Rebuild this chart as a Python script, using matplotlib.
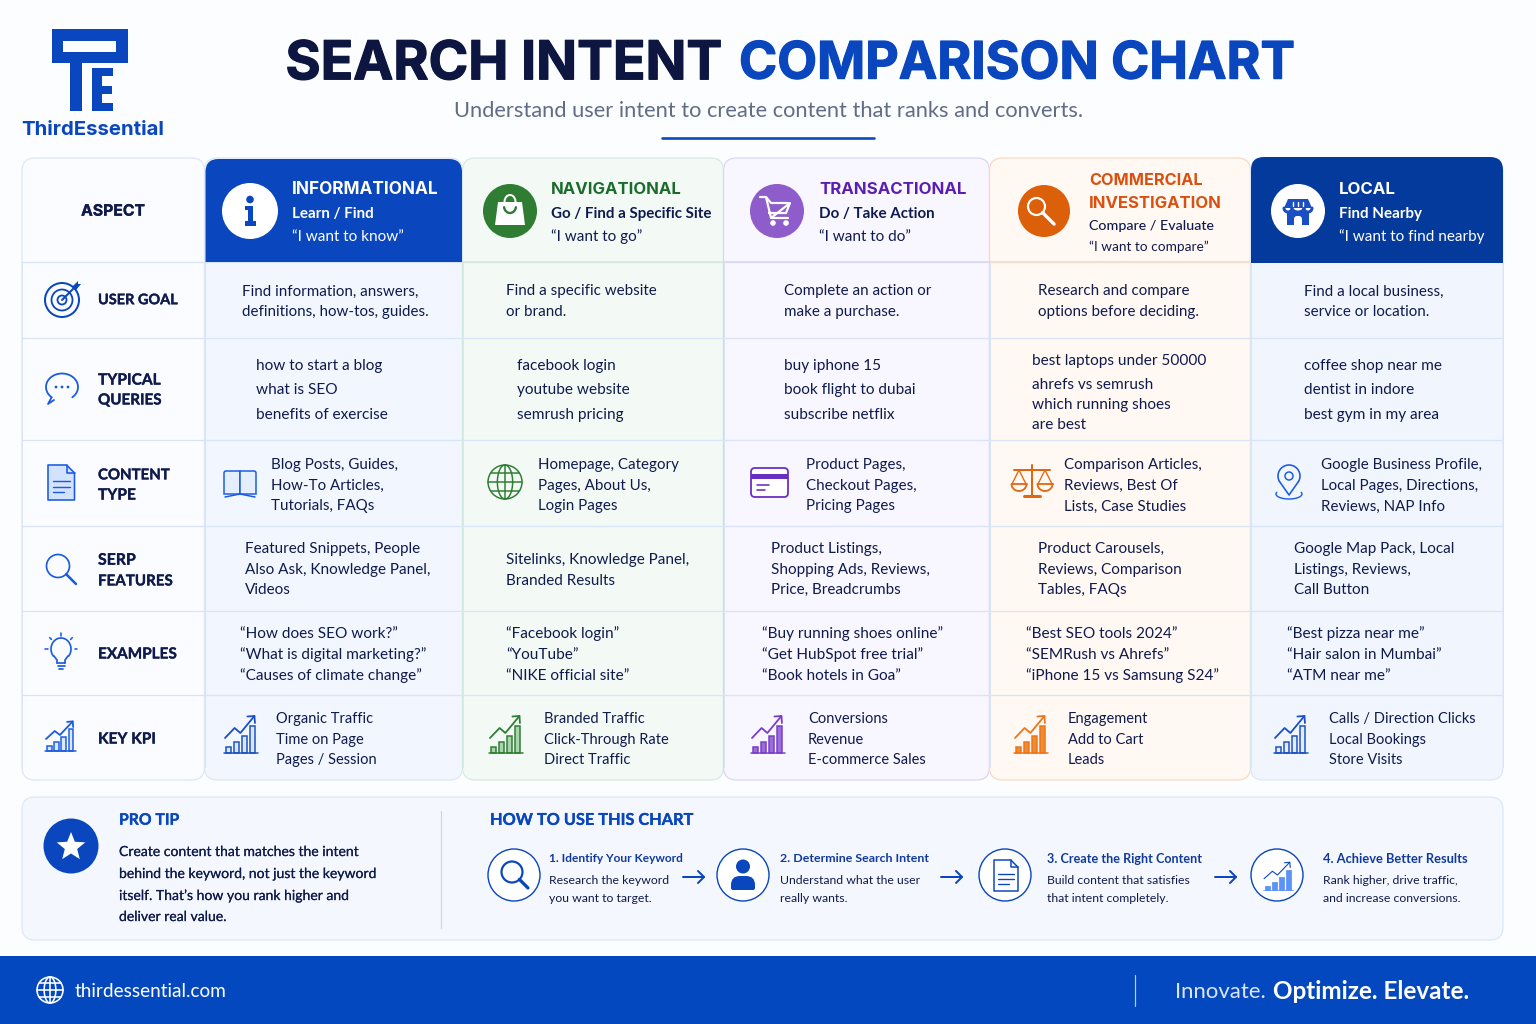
"""Search intent comparison chart, drawn on a pixel-sized canvas."""

import matplotlib
matplotlib.use("Agg")
import matplotlib.patheffects as pe
import matplotlib.pyplot as plt
import numpy as np
from matplotlib.patches import Circle, PathPatch, Polygon, Rectangle
from matplotlib.path import Path

BODY = "Lato"
HEAD = "Inter"
PX = 0.72  # one pixel in points at dpi 100

NAVY = "#101B4D"
BLUE = "#0A46BE"
DEEP = "#043A9B"
GREEN = "#1B6B2C"
PURPLE = "#5A1FB0"
ORANGE = "#D9500F"
LINE = "#D9E4F6"

# table structure
col_edges = [22, 204.5, 462.5, 723.5, 989.5, 1250.5, 1503]
row_edges = [158, 262, 338, 440, 526, 611, 695, 780]
col_fills = ["#FBFCFF", "#F2F6FE", "#F3FAF6", "#F8F6FF", "#FFF8F3", "#F1F6FE"]
col_lines = ["#DCE6F7", "#DCE6F7", "#D5EADF", "#D9D4F7", "#FAD9BE", "#DCE6F7"]

# header text
intent_titles = [["INFORMATIONAL"], ["NAVIGATIONAL"], ["TRANSACTIONAL"],
                 ["COMMERCIAL", "INVESTIGATION"], ["LOCAL"]]
intent_subs = ["Learn / Find", "Go / Find a Specific Site", "Do / Take Action",
               "Compare / Evaluate", "Find Nearby"]
intent_quotes = ["“I want to know”", "“I want to go”", "“I want to do”",
                 "“I want to compare”", "“I want to find nearby"]
intent_title_colors = ["white", GREEN, PURPLE, ORANGE, "white"]
intent_sub_colors = ["white", NAVY, NAVY, NAVY, "white"]
intent_text_x = [292, 551, 819, 1089, 1339]

# row labels
aspect_labels = [["USER GOAL"], ["TYPICAL", "QUERIES"], ["CONTENT", "TYPE"],
                 ["SERP", "FEATURES"], ["EXAMPLES"], ["KEY KPI"]]
aspect_widths = [[80], [63, 64], [72, 38], [38, 75], [79], [58]]

# table body, one list per row
user_goal = [["Find information, answers,", "definitions, how-tos, guides."],
             ["Find a specific website", "or brand."],
             ["Complete an action or", "make a purchase."],
             ["Research and compare", "options before deciding."],
             ["Find a local business,", "service or location."]]
typical_queries = [["how to start a blog", "what is SEO", "benefits of exercise"],
                   ["facebook login", "youtube website", "semrush pricing"],
                   ["buy iphone 15", "book flight to dubai", "subscribe netflix"],
                   ["best laptops under 50000", "ahrefs vs semrush", "which running shoes", "are best"],
                   ["coffee shop near me", "dentist in indore", "best gym in my area"]]
content_type = [["Blog Posts, Guides,", "How-To Articles,", "Tutorials, FAQs"],
                ["Homepage, Category", "Pages, About Us,", "Login Pages"],
                ["Product Pages,", "Checkout Pages,", "Pricing Pages"],
                ["Comparison Articles,", "Reviews, Best Of", "Lists, Case Studies"],
                ["Google Business Profile,", "Local Pages, Directions,", "Reviews, NAP Info"]]
serp_features = [["Featured Snippets, People", "Also Ask, Knowledge Panel,", "Videos"],
                 ["Sitelinks, Knowledge Panel,", "Branded Results"],
                 ["Product Listings,", "Shopping Ads, Reviews,", "Price, Breadcrumbs"],
                 ["Product Carousels,", "Reviews, Comparison", "Tables, FAQs"],
                 ["Google Map Pack, Local", "Listings, Reviews,", "Call Button"]]
examples = [["“How does SEO work?”", "“What is digital marketing?”", "“Causes of climate change”"],
            ["“Facebook login”", "“YouTube”", "“NIKE official site”"],
            ["“Buy running shoes online”", "“Get HubSpot free trial”", "“Book hotels in Goa”"],
            ["“Best SEO tools 2024”", "“SEMRush vs Ahrefs”", "“iPhone 15 vs Samsung S24”"],
            ["“Best pizza near me”", "“Hair salon in Mumbai”", "“ATM near me”"]]
key_kpi = [["Organic Traffic", "Time on Page", "Pages / Session"],
           ["Branded Traffic", "Click-Through Rate", "Direct Traffic"],
           ["Conversions", "Revenue", "E-commerce Sales"],
           ["Engagement", "Add to Cart", "Leads"],
           ["Calls / Direction Clicks", "Local Bookings", "Store Visits"]]
kpi_bars = [6, 11, 17, 27]

# bottom panel
pro_tip = ["Create content that matches the intent", "behind the keyword, not just the keyword",
           "itself. That’s how you rank higher and", "deliver real value."]
step_titles = ["1. Identify Your Keyword", "2. Determine Search Intent",
               "3. Create the Right Content", "4. Achieve Better Results"]
step_title_widths = [134, 149, 156, 145]
step_text = [["Research the keyword", "you want to target."],
             ["Understand what the user", "really wants."],
             ["Build content that satisfies", "that intent completely."],
             ["Rank higher, drive traffic,", "and increase conversions."]]

fig = plt.figure(figsize=(15.36, 10.24), dpi=100, facecolor="#FCFDFF")
ax = fig.add_axes([0, 0, 1, 1])
ax.set_xlim(0, 1536)
ax.set_ylim(1024, 0)
ax.axis("off")


def txt(x, y, s, px=15, color=NAVY, weight="normal", family=BODY, ha="left", width=None, stroke=0):
    # y is the middle of the lower-case letters, so every line sits the same way
    t = ax.text(x, y + 0.36 * px, s, fontsize=px * PX, color=color, fontweight=weight,
                family=family, ha=ha, va="baseline", zorder=6)
    if width:
        w = t.get_window_extent(fig.canvas.get_renderer()).width
        new_px = px * width / w
        t.set_fontsize(new_px * PX)
        t.set_y(y + 0.36 * new_px)
    if stroke:
        t.set_path_effects([pe.withStroke(linewidth=stroke * PX, foreground=color)])
    return t


def box(x0, y0, x1, y1, fc, ec="none", lw=1.0, tl=0, tr=0, br=0, bl=0, z=1):
    verts = [(x0 + tl, y0), (x1 - tr, y0), (x1, y0), (x1, y0 + tr), (x1, y1 - br), (x1, y1),
             (x1 - br, y1), (x0 + bl, y1), (x0, y1), (x0, y1 - bl), (x0, y0 + tl), (x0, y0),
             (x0 + tl, y0), (x0 + tl, y0)]
    codes = [Path.MOVETO, Path.LINETO, Path.CURVE3, Path.CURVE3, Path.LINETO, Path.CURVE3,
             Path.CURVE3, Path.LINETO, Path.CURVE3, Path.CURVE3, Path.LINETO, Path.CURVE3,
             Path.CURVE3, Path.CLOSEPOLY]
    ax.add_patch(PathPatch(Path(verts, codes), facecolor=fc, edgecolor=ec, lw=lw * PX, zorder=z))


def line(xs, ys, color, lw=2.0, z=5):
    ax.plot(xs, ys, color=color, lw=lw * PX, solid_capstyle="round", solid_joinstyle="round", zorder=z)


def circle(x, y, r, fc="none", ec="none", lw=1.0, z=4):
    ax.add_patch(Circle((x, y), r, facecolor=fc, edgecolor=ec, lw=lw * PX, zorder=z))


def poly(pts, fc="none", ec="none", lw=1.0, z=5, closed=True):
    ax.add_patch(Polygon(pts, closed=closed, facecolor=fc, edgecolor=ec, lw=lw * PX, zorder=z,
                         joinstyle="round"))


def arc(x, y, rx, ry, a0, a1, color, lw=2.0, z=5):
    t = np.radians(np.linspace(a0, a1, 40))
    line(x + rx * np.cos(t), y + ry * np.sin(t), color, lw, z)


def magnifier(x, y, r, color, lw=2.0, handle=1.0):
    circle(x, y, r, ec=color, lw=lw, z=5)
    k = r * 0.71
    line([x + k, x + k + r * 0.85 * handle], [y + k, y + k + r * 0.85 * handle], color, lw * 1.5)


def doc_icon(x0, y0, w, h, color, fill="none", lw=1.6):
    f = w * 0.3
    poly([(x0, y0), (x0 + w - f, y0), (x0 + w, y0 + f), (x0 + w, y0 + h), (x0, y0 + h)],
         fc=fill, ec=color, lw=lw)
    line([x0 + w - f, x0 + w - f, x0 + w], [y0, y0 + f, y0 + f], color, lw)
    for i, k in enumerate([0.45, 0.62, 0.78]):
        line([x0 + w * 0.18, x0 + w * (0.82 if i < 2 else 0.62)], [y0 + h * k, y0 + h * k], color, lw * 0.9)


def chart_icon(x0, base, w, color, fill="none", lw=1.5, line_color=None, scale=1.0):
    # bars and a rising trend line with an arrow head
    line_color = line_color or color
    n = len(kpi_bars)
    gap = w / n
    for i, h in enumerate(kpi_bars):
        ax.add_patch(Rectangle((x0 + i * gap + 0.8, base - h * scale), gap * 0.68, h * scale, facecolor=fill,
                               edgecolor=color, lw=lw * PX, zorder=5))
    line([x0 - 1, x0 + w + 1], [base, base], color, lw)
    tx = [x0, x0 + w * 0.3, x0 + w * 0.48, x0 + w * 0.92]
    ty = [base - 15 * scale, base - 25 * scale, base - 20 * scale, base - 37 * scale]
    line(tx, ty, line_color, lw + 0.3)
    line([tx[3] - 7 * scale, tx[3], tx[3] + 0.5], [ty[3] + 0.5, ty[3], ty[3] + 7 * scale], line_color, lw + 0.3)


def globe(x, y, r, color, lw=1.5):
    circle(x, y, r, ec=color, lw=lw, z=5)
    arc(x, y, r * 0.45, r, 0, 360, color, lw)
    line([x, x], [y - r, y + r], color, lw)
    line([x - r, x + r], [y, y], color, lw)
    for k in (-0.55, 0.55):
        w = r * np.sqrt(1 - k * k)
        line([x - w, x + w], [y + k * r, y + k * r], color, lw)


def arrow(x0, x1, y, color=BLUE, lw=2.0):
    line([x0, x1], [y, y], color, lw)
    line([x1 - 6, x1, x1 - 6], [y - 6, y, y + 6], color, lw)


# logo
poly([(52, 29), (128, 29), (128, 63), (82, 63), (82, 111), (70, 111), (70, 63), (52, 63)], fc=BLUE, z=3)
ax.add_patch(Rectangle((63, 41), 53, 11, facecolor="#FCFDFF", zorder=4))
poly([(92, 68), (113, 68), (113, 76), (102, 76), (102, 86), (112, 86), (112, 94), (102, 94),
      (102, 103), (113, 103), (113, 111), (92, 111)], fc=BLUE, z=3)
txt(21, 128, "ThirdEssential", px=23, color=BLUE, weight="bold", family=HEAD, width=143)

# title block
txt(285.5, 60, "SEARCH INTENT", px=60, color="#0C1640", weight="bold", family=HEAD, width=437, stroke=1.2)
txt(739, 60, "COMPARISON CHART", px=60, color=BLUE, weight="bold", family=HEAD, width=556, stroke=1.2)
txt(769, 109, "Understand user intent to create content that ranks and converts.", px=21,
    color="#616C86", family=BODY, ha="center", width=631)
line([662, 874], [137.5, 137.5], BLUE, 2.6)

# columns and grid
for i, (x0, x1) in enumerate(zip(col_edges[:-1], col_edges[1:])):
    box(x0, row_edges[0], x1, row_edges[-1], col_fills[i], col_lines[i], 1.2, tl=13, tr=13, br=13, bl=13)
for x in col_edges:
    line([x, x], [row_edges[1], row_edges[-1] - 13], LINE, 1.0, z=2)
for y in row_edges[1:-1]:
    line([col_edges[0], col_edges[-1]], [y, y], LINE, 1.3, z=2)
# header cells close with a line in the column colour
for i in (2, 3, 4):
    line([col_edges[i], col_edges[i + 1]], [row_edges[1], row_edges[1]], col_lines[i], 1.5, z=2)

box(205.5, 159, 462, 262, BLUE, tl=13, tr=13, z=3)
box(1251, 157, 1503, 263, DEEP, tl=13, tr=13, z=3)

# header cells
txt(113, 210, "ASPECT", px=16.5, color=NAVY, weight="bold", family=HEAD, ha="center", width=64, stroke=0.3)
for i, x in enumerate(intent_text_x):
    if len(intent_titles[i]) == 2:
        txt(x, 179, intent_titles[i][0], px=18, color=intent_title_colors[i], weight="bold", family=HEAD, width=113)
        txt(x, 202, intent_titles[i][1], px=18, color=intent_title_colors[i], weight="bold", family=HEAD, width=132)
        txt(x, 225, intent_subs[i], px=14.5, color=intent_sub_colors[i], family=BODY, weight="medium", width=125)
        txt(x, 246, intent_quotes[i], px=14.5, color=intent_sub_colors[i], family=BODY, width=119)
    else:
        width = {0: 146, 1: 130, 2: 147, 4: 57}[i]
        txt(x, 188, intent_titles[i][0], px=18, color=intent_title_colors[i], weight="bold", family=HEAD, width=width)
        txt(x, 213, intent_subs[i], px=15.1, color=intent_sub_colors[i], family=BODY, weight="bold")
        txt(x, 236, intent_quotes[i], px=15.2, color=intent_sub_colors[i], family=BODY)

# header icons
circle(250, 211, 28, fc="white")
circle(250, 199.5, 3.8, fc=BLUE, z=5)
poly([(245, 206), (253, 206), (253, 221), (256, 221), (256, 226), (245, 226), (245, 221),
      (248, 221), (248, 210), (245, 210)], fc=BLUE)

circle(510, 211, 27, fc="#2E7D32")
poly([(498, 202), (522, 202), (525, 225), (495, 225)], fc="white")
arc(510, 202, 5.5, 7, 180, 360, "white", 2)
arc(510, 206, 6, 7, 10, 170, "#2E7D32", 2.4)

circle(777, 211, 27, fc="#8E5CCB")
line([760, 766, 771, 790, 786, 769], [197, 197, 218, 203, 213, 213], "white", 2.2)
line([766, 771, 788], [197, 203, 203], "white", 2.2)
line([771, 788], [218, 218], "white", 2.2)
circle(773, 223, 2.8, fc="white", z=5)
circle(786, 223, 2.8, fc="white", z=5)

circle(1044, 211, 26, fc="#DC5F0A")
magnifier(1036.5, 206.5, 8.5, "white", 2.2, handle=1.6)

circle(1298, 211, 27, fc="white")
box(1287, 211, 1309, 225, "#1A4FC4", z=5)
poly([(1288, 199), (1308, 199), (1312, 208), (1284, 208)], fc="#1A4FC4")
for sx in (1293, 1298, 1303):
    line([sx, sx], [201.5, 206], "white", 1.4, z=6)
arc(1288, 208, 4, 4, 0, 180, "#1A4FC4", 3)
arc(1298, 208, 6, 4, 0, 180, "#1A4FC4", 3)
arc(1308, 208, 4, 4, 0, 180, "#1A4FC4", 3)
box(1294, 216, 1302, 225, "white", tl=3, tr=3, z=6)

# row labels
label_y = [[299], [379, 399], [474, 494], [559, 580], [653], [738]]
for lines, ys, widths in zip(aspect_labels, label_y, aspect_widths):
    for s, y, w in zip(lines, ys, widths):
        txt(98, y, s, px=15, color=NAVY, weight="bold", family=BODY, width=w, stroke=0.3)

# row icons
ICON = "#1A5BE0"
circle(62, 300, 17, ec=BLUE, lw=2)
circle(62, 300, 10.5, ec=BLUE, lw=1.8)
circle(62, 300, 4.5, ec=BLUE, lw=1.8)
line([62, 75], [300, 287], BLUE, 2)
poly([(72, 287), (78, 281), (78, 284), (81, 284), (76, 290)], fc=BLUE)

arc(62, 387, 16, 13.5, 130, 410, ICON, 1.8)
line([51.5, 48, 54], [397.5, 404, 400], ICON, 1.8)
for dx in (-6, 0, 6):
    circle(62 + dx, 387, 1.4, fc=ICON, z=5)

doc_icon(48, 465, 26.5, 35, ICON, fill="#D4E3FD")
magnifier(58, 566, 11.5, ICON, 1.7)

# bulb
arc(61, 649, 10, 11, 140, 400, ICON, 1.7)
line([54, 57, 57], [656, 660, 663], ICON, 1.7)
line([68, 65, 65], [656, 660, 663], ICON, 1.7)
line([57, 65], [663, 663], ICON, 1.7)
line([57.5, 64.5], [666, 666], ICON, 1.7)
line([59, 63], [669, 669], ICON, 1.7)
for ang in (180, 225, 270, 315, 360):
    a = np.radians(ang)
    line([61 + 13.5 * np.cos(a), 61 + 16 * np.cos(a)], [649 + 13.5 * np.sin(a), 649 + 16 * np.sin(a)], ICON, 1.6)

chart_icon(46, 751, 29, ICON, fill="#DCE8FD", scale=0.8)

# table body
table_rows = [user_goal, typical_queries, content_type, serp_features, examples, key_kpi]
row_x = [[242, 506, 784, 1038, 1304],
         [256, 517, 784, 1032, 1304],
         [271, 538, 806, 1064, 1321],
         [245, 506, 771, 1038, 1294],
         [240, 506, 762, 1026, 1287],
         [276, 544, 808, 1068, 1329]]
row_y = [[290, 311], [364.5, 388.5, 413.5], [464, 484.5, 505], [547.5, 568.5, 588.5], [632, 653, 674], [718, 738.5, 759]]
row_px = [15.1, 15.4, 15.1, 15.3, 15.4, 14.6]
for cells, xs, ys, size in zip(table_rows, row_x, row_y, row_px):
    for cell, x in zip(cells, xs):
        if len(cell) == 4:
            ys_use = [359.5, 383.5, 403.5, 423.5]
        elif len(cell) == 2 and len(ys) == 3:
            ys_use = [558.5, 579.5]
        else:
            ys_use = ys
        for s, y in zip(cell, ys_use):
            txt(x, y, s, px=size)

# content type icons
book = "#1A5BE0"
box(224, 471, 240, 494, "#E4EEFE", book, 1.5, tl=2, z=4)
box(240, 471, 256, 494, "#E4EEFE", book, 1.5, tr=2, z=4)
line([225, 240, 255], [497, 494, 497], book, 1.5)
globe(505, 482, 17, "#2E7D32", 1.5)
box(751, 468, 788, 497, "white", "#6A2FC0", 1.8, tl=4, tr=4, br=4, bl=4, z=4)
ax.add_patch(Rectangle((751, 474), 37, 5, facecolor="#6A2FC0", zorder=5))
line([757, 769], [485, 485], "#6A2FC0", 1.6)
line([757, 765], [490, 490], "#6A2FC0", 1.6)
# scales
SC = "#E5640F"
line([1032, 1032], [465, 495], SC, 2)
line([1014, 1050], [470, 470], SC, 2)
line([1024, 1040], [496, 496], SC, 3)
line([1012, 1019, 1026], [484, 470, 484], SC, 1.3)
line([1038, 1045, 1052], [484, 470, 484], SC, 1.3)
arc(1019, 484, 7.5, 7, 0, 180, SC, 1.8)
arc(1045, 484, 7.5, 7, 0, 180, SC, 1.8)
line([1011.5, 1026.5], [484, 484], SC, 1.8)
line([1037.5, 1052.5], [484, 484], SC, 1.8)
# map pin
arc(1289, 476, 11, 11, 150, 390, ICON, 1.6)
line([1279.5, 1289, 1298.5], [481.5, 495, 481.5], ICON, 1.6)
circle(1289, 476, 4, ec=ICON, lw=1.5)
arc(1289, 494, 13, 5, -20, 200, ICON, 1.4)

# kpi icons
kpi_icon_x = [225, 490, 752, 1015, 1275]
kpi_icon_line = ["#1A4FC4", "#2E7D32", "#7A3DC8", "#EE7518", "#1A4FC4"]
kpi_icon_fill = ["#DCE8FD", "#A9D4AF", "#9C6BDC", "#F08A33", "#E3EDFE"]
for x0, c, f in zip(kpi_icon_x, kpi_icon_line, kpi_icon_fill):
    chart_icon(x0, 753, 32, c, fill=f)

# bottom panel
box(22, 797, 1503, 940, "#F4F8FE", "#DCE7F8", 1.2, tl=13, tr=13, br=13, bl=13)
line([441, 441], [811, 928], "#C7D6EE", 1.2)
circle(71, 846, 27.5, fc=BLUE)
t = np.radians(np.arange(-90, 270, 36))
star_r = np.where(np.arange(10) % 2 == 0, 15, 6.5)
poly(list(zip(71 + star_r * np.cos(t), 847 + star_r * np.sin(t))), fc="white")
txt(119, 819, "PRO TIP", px=16, color=BLUE, weight="bold", family=BODY, width=60, stroke=0.3)
for s, y in zip(pro_tip, [851, 873, 895, 916]):
    txt(119, y, s, px=14.0, stroke=0.15)

txt(490, 819, "HOW TO USE THIS CHART", px=16.5, color=BLUE, weight="bold", family=BODY, width=204, stroke=0.3)
step_icon_x = [514, 743, 1005, 1277]
step_text_x = [549, 780, 1047, 1323]
for cx, tx, title, w, desc in zip(step_icon_x, step_text_x, step_titles, step_title_widths, step_text):
    circle(cx, 875, 26, fc="white", ec=BLUE, lw=1.4)
    txt(tx, 858, title, px=12.5, color="#123A9C", weight="bold", family=BODY, width=w)
    txt(tx, 880, desc[0], px=12.3)
    txt(tx, 898, desc[1], px=12.3)
for x0 in (683, 941, 1215):
    arrow(x0, x0 + 21, 877)

magnifier(512, 872, 10.5, BLUE, 2.2, handle=0.95)
circle(743, 866.5, 7, fc=BLUE, z=5)
box(731, 876, 755, 890, BLUE, tl=9, tr=9, br=2, bl=2, z=5)
doc_icon(994, 860, 24, 31, BLUE, fill="white", lw=1.5)
chart_icon(1264, 890, 28, "#5E93F5", fill="#5E93F5", lw=0.8, line_color=BLUE, scale=0.75)

# footer
ax.add_patch(Rectangle((0, 956), 1536, 68, facecolor="#0348BF", zorder=3))
globe(50, 990, 13, "white", 1.6)
txt(75, 990, "thirdessential.com", px=19.5, color="white", family=BODY, width=152)
line([1135, 1135], [975, 1006], "#B9CBF0", 1.2)
txt(1175, 990, "Innovate.", px=24, color="#DCE6FA", family=BODY, width=91)
txt(1273, 990, "Optimize. Elevate.", px=24, color="white", weight="bold", family=BODY, width=196)

fig.savefig("out.png", dpi=100, facecolor=fig.get_facecolor())
